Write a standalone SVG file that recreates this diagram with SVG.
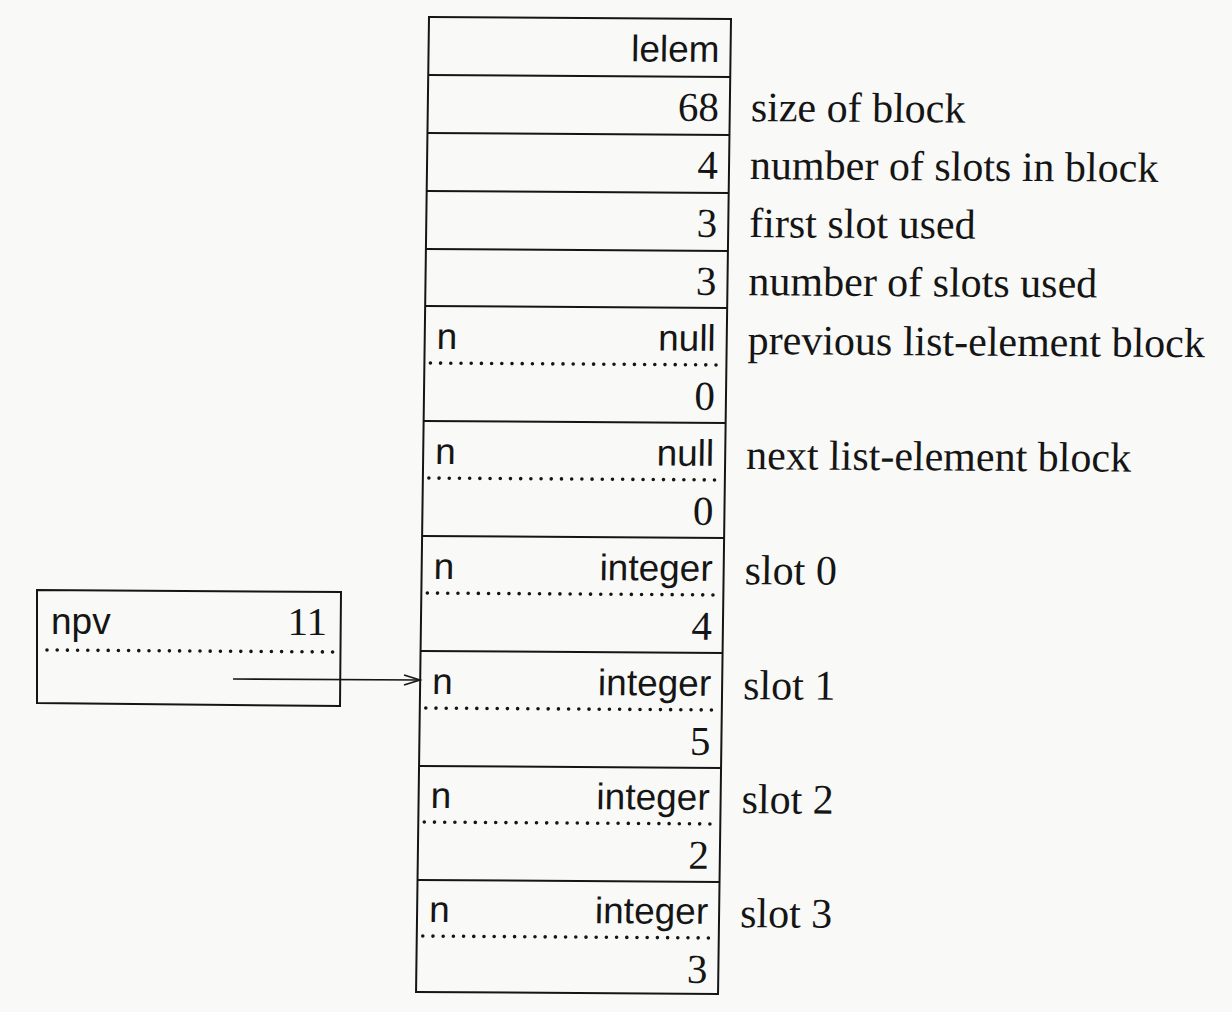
<svg xmlns="http://www.w3.org/2000/svg" width="1232" height="1012" viewBox="0 0 1232 1012">
<style>
.box{fill:none;stroke:#151515;stroke-width:2}
.dot{fill:none;stroke:#151515;stroke-width:3.6;stroke-dasharray:0 10.2;stroke-linecap:round}
.sans{font-family:"Liberation Sans",Arial,sans-serif;font-size:37px;fill:#151515}
.serif{font-family:"Liberation Serif","Times New Roman",serif;font-size:41px;fill:#151515}
.lbl{font-size:42px}
.r{text-anchor:end}
</style>
<defs>
<marker id="arr" markerWidth="20" markerHeight="12" refX="17" refY="6" orient="auto" markerUnits="userSpaceOnUse">
<path d="M1,1 L17,6 L1,11" fill="none" stroke="#151515" stroke-width="1.6"/>
</marker>
</defs>
<rect width="1232" height="1012" fill="#f9f9f7"/>
<g transform="matrix(1 0.0066 -0.0133 1 0.23 -2.83)">
<g id="lelem-block">
<rect class="box" x="429" y="17" width="302" height="975"/>
<path class="box" d="M429,75H731M429,133H731M429,191H731M429,249H731M429,306H731M429,421H731M429,536H731M429,651H731M429,766H731M429,880H731"/>
</g>
<g id="row-lelem"><text class="sans r" x="720" y="60">lelem</text></g>
<g id="row-size"><text class="serif r" x="720" y="119">68</text><text class="serif lbl" x="752" y="119">size of block</text></g>
<g id="row-nslots"><text class="serif r" x="720" y="177">4</text><text class="serif lbl" x="752" y="177">number of slots in block</text></g>
<g id="row-first"><text class="serif r" x="720" y="235">3</text><text class="serif lbl" x="752" y="235">first slot used</text></g>
<g id="row-used"><text class="serif r" x="720" y="293">3</text><text class="serif lbl" x="752" y="293">number of slots used</text></g>
<g id="row-prev">
<text class="sans" x="441" y="349">n</text><text class="sans r" x="720" y="349">null</text>
<path class="dot" d="M435,363H722"/>
<text class="serif r" x="720" y="408">0</text>
<text class="serif lbl" x="752" y="352">previous list-element block</text>
</g>
<g id="row-next">
<text class="sans" x="441" y="464">n</text><text class="sans r" x="720" y="464">null</text>
<path class="dot" d="M435,478H722"/>
<text class="serif r" x="720" y="523">0</text>
<text class="serif lbl" x="752" y="467">next list-element block</text>
</g>
<g id="slot0">
<text class="sans" x="441" y="579">n</text><text class="sans r" x="720" y="579">integer</text>
<path class="dot" d="M435,593H722"/>
<text class="serif r" x="720" y="638">4</text>
<text class="serif lbl" x="752" y="582">slot 0</text>
</g>
<g id="slot1">
<text class="sans" x="441" y="694">n</text><text class="sans r" x="720" y="694">integer</text>
<path class="dot" d="M435,708H722"/>
<text class="serif r" x="720" y="753">5</text>
<text class="serif lbl" x="752" y="697">slot 1</text>
</g>
<g id="slot2">
<text class="sans" x="441" y="808">n</text><text class="sans r" x="720" y="808">integer</text>
<path class="dot" d="M435,822H722"/>
<text class="serif r" x="720" y="867">2</text>
<text class="serif lbl" x="752" y="811">slot 2</text>
</g>
<g id="slot3">
<text class="sans" x="441" y="922">n</text><text class="sans r" x="720" y="922">integer</text>
<path class="dot" d="M435,936H722"/>
<text class="serif r" x="720" y="981">3</text>
<text class="serif lbl" x="752" y="925">slot 3</text>
</g>
</g>
<g id="npv">
<path class="box" d="M37,590L341,592L340,706L37,703Z"/>
<text class="sans" x="51" y="634">npv</text>
<text class="serif r" x="327" y="635">11</text>
<path class="dot" d="M47,650L336,652"/>
</g>
<g id="connectors">
<path d="M233,679L420,680" fill="none" stroke="#151515" stroke-width="1.6" marker-end="url(#arr)"/>
</g>
</svg>
